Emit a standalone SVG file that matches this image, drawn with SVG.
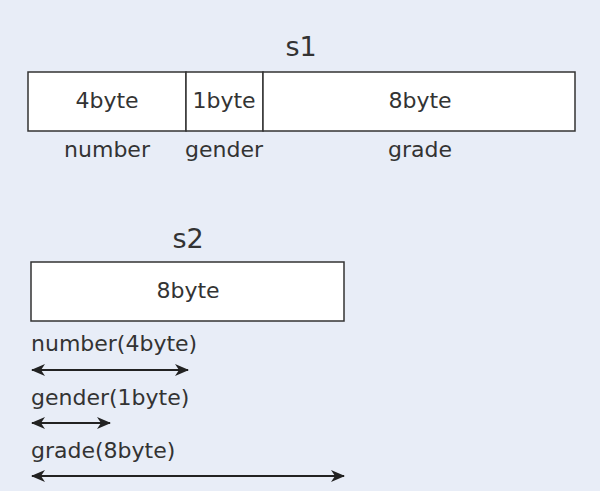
<svg xmlns="http://www.w3.org/2000/svg" width="600" height="491" viewBox="0 0 600 491">
<style>
text{font-family:"DejaVu Sans","Noto Sans",sans-serif;fill:#333;}
.t{font-size:27px;text-anchor:middle;}
.c{font-size:22px;text-anchor:middle;}
.l{font-size:22px;}
.box{fill:#fff;stroke:#333;stroke-width:1.5;}
.ar{stroke:#222;stroke-width:2;fill:none;marker-start:url(#ah);marker-end:url(#ah);}
</style>
<defs>
<marker id="ah" viewBox="0 0 14 12" refX="13" refY="6" markerWidth="14" markerHeight="12" markerUnits="userSpaceOnUse" orient="auto-start-reverse">
<path d="M0,0 L14,6 L0,12 L4,6 Z" fill="#222"/>
</marker>
</defs>
<rect width="600" height="491" fill="#e8edf7"/>
<g id="s1">
<text class="t" x="301" y="56">s1</text>
<g id="s1-number"><rect class="box" x="28" y="72" width="158" height="59"/><text class="c" x="107" y="108">4byte</text><text class="c" x="107" y="157">number</text></g>
<g id="s1-gender"><rect class="box" x="186" y="72" width="77" height="59"/><text class="c" x="224" y="108">1byte</text><text class="c" x="224" y="157">gender</text></g>
<g id="s1-grade"><rect class="box" x="263" y="72" width="312" height="59"/><text class="c" x="420" y="108">8byte</text><text class="c" x="420" y="157">grade</text></g>
</g>
<g id="s2">
<text class="t" x="188" y="248">s2</text>
<rect class="box" x="31" y="262" width="313" height="59"/><text class="c" x="188" y="298">8byte</text>
</g>
<g id="labels">
<text class="l" x="31" y="351">number(4byte)</text>
<text class="l" x="31" y="405">gender(1byte)</text>
<text class="l" x="31" y="458">grade(8byte)</text>
</g>
<g id="connectors">
<line class="ar" x1="32" y1="370" x2="188" y2="370"/>
<line class="ar" x1="32" y1="423" x2="110" y2="423"/>
<line class="ar" x1="32" y1="476" x2="344" y2="476"/>
</g>
</svg>
